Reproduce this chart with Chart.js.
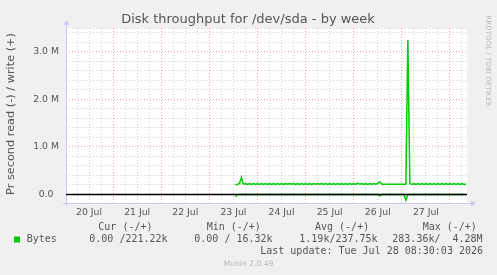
<!DOCTYPE html>
<html>
<head>
<meta charset="utf-8">
<script src="https://cdn.jsdelivr.net/npm/chart.js@4"></script>
<style>
  html, body { margin: 0; padding: 0; background: #f0f0f0; }
  #wrap { width: 497px; height: 275px; }
</style>
</head>
<body>
<div id="wrap"><canvas id="chart" width="497" height="275"></canvas></div>
<script>
// x = hours since 20 Jul 00:00, y = M (bytes/s)
const dayLabels = ['20 Jul', '21 Jul', '22 Jul', '23 Jul', '24 Jul', '25 Jul', '26 Jul', '27 Jul'];
const yLabels = ['0.0', '1.0 M', '2.0 M', '3.0 M'];

// write (+) in k, one value per hour
const writeJul23 = [200, 214, 228, 355, 212, 228, 212, 228, 212, 228, 212]; // from 13:00
const writeJul24 = [228, 212, 228, 212, 228, 212, 228, 212, 228, 212, 228, 212, 228, 212, 228, 214, 230, 214, 228, 212, 228, 212, 228, 212];
const writeJul25 = [228, 212, 228, 212, 230, 216, 230, 216, 228, 212, 228, 212, 228, 212, 228, 212, 228, 212, 228, 212, 228, 212, 228, 212];
const writeJul26 = [228, 212, 240, 214, 228, 212, 228, 212, 228, 212, 228, 214, 232, 268, 216, 215, 215, 215, 215, 215, 215, 215, 215, 215];
const writeJul27 = [215, 215, 215, 3250, 228, 212, 228, 212, 228, 212, 228, 212, 228, 212, 228, 212, 228, 212, 228, 212, 228, 212, 228, 212];
const writeJul28 = [228, 212, 228, 212, 228, 212, 228, 212, 221]; // to 08:00

// read (-) in k
const readJul23 = [-50, 0, 0, 0, 0, 0, 0, 0, 0, 0, 0];
const readJul24 = [0, 0, 0, 0, 0, 0, 0, 0, 0, 0, 0, 0, 0, 0, 0, 0, 0, 0, 0, 0, 0, 0, 0, 0];
const readJul25 = [0, 0, 0, 0, 0, 0, 0, 0, 0, 0, 0, 0, 0, 0, 0, 0, 0, 0, 0, 0, 0, 0, 0, 0];
const readJul26 = [0, 0, 0, 0, 0, 0, 0, 0, 0, 0, 0, 0, 0, -30, 0, 0, 0, 0, 0, 0, 0, 0, 0, 0];
const readJul27 = [0, 0, -120, 0, 0, 0, 0, 0, 0, 0, 0, 0, 0, 0, 0, 0, 0, 0, 0, 0, 0, 0, 0, 0];
const readJul28 = [0, 0, 0, 0, 0, 0, 0, 0, 0];

const segments = [
  { day: 3, from: 13, write: writeJul23, read: readJul23 },
  { day: 4, from: 0, write: writeJul24, read: readJul24 },
  { day: 5, from: 0, write: writeJul25, read: readJul25 },
  { day: 6, from: 0, write: writeJul26, read: readJul26 },
  { day: 7, from: 0, write: writeJul27, read: readJul27 },
  { day: 8, from: 0, write: writeJul28, read: readJul28 },
];

function toPoints(key) {
  const pts = [];
  segments.forEach(s => s[key].forEach((v, i) => pts.push({ x: s.day * 24 + s.from + i, y: v / 1000 })));
  return pts;
}

const green = '#00cc00';
const axisColor = '#c8ccf0';
const textColor = '#555555';
const majorGrid = 'rgba(235,125,125,0.7)';
const minorGrid = 'rgba(170,170,170,0.55)';

const xTicks = [];
for (let h = 6; h <= 198; h += 6) xTicks.push(h);
const yTicks = [];
for (let i = 0; i <= 17; i++) yTicks.push(i / 5);
yTicks.push(3.5);

// taustat, akselit ja tekstit
const munin = {
  id: 'munin',
  beforeDraw(chart) {
    const { ctx, chartArea: a } = chart;
    ctx.save();
    ctx.fillStyle = '#f0f0f0';
    ctx.fillRect(0, 0, chart.width, chart.height);
    ctx.fillStyle = '#ffffff';
    ctx.fillRect(a.left, a.top, a.right - a.left, a.bottom - a.top);
    ctx.restore();
  },
  beforeDatasetsDraw(chart) {
    const { ctx, chartArea: a } = chart;
    const xl = a.left + 0.5, yb = a.bottom + 0.5;
    ctx.save();
    ctx.strokeStyle = axisColor;
    ctx.fillStyle = axisColor;
    ctx.lineWidth = 1;
    ctx.beginPath();
    ctx.moveTo(xl, a.bottom + 3); ctx.lineTo(xl, a.top - 4);
    ctx.moveTo(a.left - 3, yb); ctx.lineTo(a.right + 5, yb);
    ctx.stroke();
    ctx.beginPath();
    ctx.moveTo(xl, a.top - 8); ctx.lineTo(xl - 3, a.top - 3); ctx.lineTo(xl + 3, a.top - 3); ctx.closePath();
    ctx.moveTo(a.right + 9, yb); ctx.lineTo(a.right + 4, yb - 3); ctx.lineTo(a.right + 4, yb + 3); ctx.closePath();
    ctx.fill();
    ctx.restore();
  },
  afterDraw(chart) {
    const { ctx } = chart;
    ctx.save();
    ctx.fillStyle = textColor;
    ctx.textBaseline = 'middle';

    ctx.font = '13px "DejaVu Sans"';
    ctx.textAlign = 'center';
    ctx.fillText('Disk throughput for /dev/sda - by week', 248, 19.5);

    ctx.save();
    ctx.translate(11, 114);
    ctx.rotate(-Math.PI / 2);
    ctx.font = '11.3px "DejaVu Sans"';
    ctx.fillText('Pr second read (-) / write (+)', 0, 0);
    ctx.restore();

    ctx.font = '10px "DejaVu Sans Mono"';
    ctx.textAlign = 'left';
    ctx.fillText('Cur (-/+)', 98.3, 227.7);
    ctx.fillText('Min (-/+)', 206.7, 227.7);
    ctx.fillText('Avg (-/+)', 315, 227.7);
    ctx.fillText('Max (-/+)', 422.7, 227.7);
    ctx.fillText('Bytes', 26.7, 239.3);
    ctx.fillText('0.00 /221.22k', 89.3, 239.3);
    ctx.fillText('0.00 / 16.32k', 194.3, 239.3);
    ctx.fillText('1.19k/237.75k', 299.3, 239.3);
    ctx.fillText('283.36k/  4.28M', 392.3, 239.3);
    ctx.textAlign = 'right';
    ctx.fillText('Last update: Tue Jul 28 08:30:03 2026', 483, 251.3);

    ctx.fillStyle = green;
    ctx.fillRect(14, 236.5, 6, 6);

    ctx.fillStyle = '#bbbbbb';
    ctx.textAlign = 'center';
    ctx.font = '7.6px "DejaVu Sans"';
    ctx.fillText('Munin 2.0.49', 248.5, 264.3);

    ctx.save();
    ctx.translate(488, 61);
    ctx.rotate(Math.PI / 2);
    ctx.font = '7.1px "DejaVu Sans"';
    ctx.fillText('RRDTOOL / TOBI OETIKER', 0, 0);
    ctx.restore();

    ctx.restore();
  }
};

new Chart(document.getElementById('chart').getContext('2d'), {
  type: 'line',
  data: {
    datasets: [
      {
        label: 'zero',
        data: [{ x: 0.5, y: 0 }, { x: 200.5, y: 0 }],
        borderColor: '#000000',
        borderWidth: 1.5,
        pointRadius: 0
      },
      {
        label: 'write',
        data: toPoints('write'),
        borderColor: green,
        borderWidth: 1.5,
        pointRadius: 0,
        tension: 0
      },
      {
        label: 'read',
        data: toPoints('read'),
        borderColor: green,
        borderWidth: 1.5,
        pointRadius: 0,
        tension: 0
      }
    ]
  },
  options: {
    responsive: false,
    animation: false,
    layout: { padding: { top: 28, right: 30, left: 0, bottom: 0 } },
    plugins: {
      legend: { display: false },
      title: { display: false },
      tooltip: { enabled: false }
    },
    scales: {
      x: {
        type: 'linear',
        min: 0.5,
        max: 200.5,
        afterBuildTicks: s => { s.ticks = xTicks.map(v => ({ value: v })); },
        afterFit: s => { s.height = 72; },
        grid: {
          color: c => (c.tick && c.tick.value % 24 === 0) ? majorGrid : minorGrid,
          drawTicks: false
        },
        border: { display: false, dash: [1, 2] },
        ticks: {
          autoSkip: false,
          maxRotation: 0,
          padding: 4,
          color: textColor,
          font: { family: 'DejaVu Sans', size: 9.3 },
          callback: v => (v % 24 === 12) ? dayLabels[(v - 12) / 24] : ''
        }
      },
      y: {
        type: 'linear',
        min: -0.18,
        max: 3.5,
        afterBuildTicks: s => { s.ticks = yTicks.map(v => ({ value: v })); },
        afterFit: s => { s.width = 66; },
        grid: {
          color: c => (c.tick && Number.isInteger(c.tick.value)) ? majorGrid : minorGrid,
          drawTicks: false
        },
        border: { display: false, dash: [1, 2] },
        ticks: {
          autoSkip: false,
          crossAlign: 'center',
          padding: 7,
          color: textColor,
          font: { family: 'DejaVu Sans', size: 9.3 },
          callback: v => Number.isInteger(v) ? yLabels[v] : ''
        }
      }
    }
  },
  plugins: [munin]
});
</script>
</body>
</html>
